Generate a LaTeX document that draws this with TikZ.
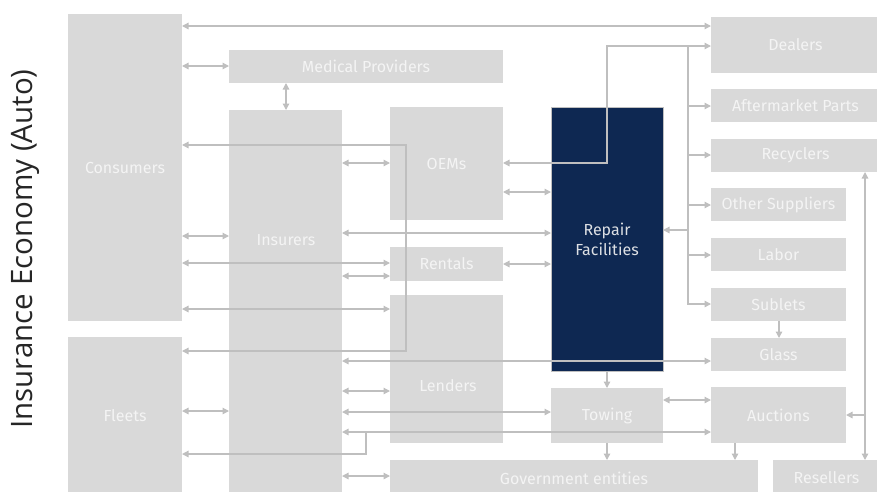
\documentclass[tikz,border=0pt]{standalone}
\usepackage{fontspec}
\setmainfont{Fira Sans}
\newfontfamily\titlefont{Open Sans}
\usetikzlibrary{arrows.meta}
\definecolor{boxgray}{HTML}{D9D9D9}
\definecolor{linegray}{HTML}{BFBFBF}
\definecolor{navy}{HTML}{0E2852}
\definecolor{labwhite}{HTML}{F4F4F4}
\definecolor{titlecol}{HTML}{262626}
\tikzset{
  box/.style={fill=boxgray, draw=none, inner sep=0pt, outer sep=0pt, text=labwhite,
    font=\fontsize{16}{20}\selectfont, align=center},
  navybox/.style={box, fill=navy, draw=linegray, line width=0.6pt, text=labwhite!90!navy},
  lab/.style={text=labwhite, font=\fontsize{16}{20}\selectfont, inner sep=0pt},
  conn/.style={draw=linegray, line width=1.3pt, >={Triangle[length=6.5pt,width=6.5pt]}},
}
\newcommand{\bx}[7][box]{\node[#1, minimum width=#5pt, minimum height=#6pt] (#2) at (#3,#4) {#7};}
\begin{document}
\begin{tikzpicture}[x=1pt,y=-1pt]
\useasboundingbox (0,0) rectangle (877,491);
\clip (0,0) rectangle (877,491);
% title
\node[rotate=90, text=titlecol, font=\titlefont\fontsize{29.5}{32}\selectfont, inner sep=0pt] (title) at (25,249) {Insurance Economy (Auto)};
% boxes
\bx{cons}{125}{167.5}{114}{307}{Consumers}
\bx{fleets}{125}{416}{114}{158}{Fleets}
\bx{med}{366}{66.5}{274}{33}{Medical Providers}
\bx{ins}{285.5}{302.5}{113}{385}{}
\node[lab] (inslab) at (286,240) {Insurers};
\bx{oem}{446.5}{163.5}{113}{113}{OEMs}
\bx{rent}{446.5}{264}{113}{34}{Rentals}
\bx{lend}{446.5}{369}{113}{148}{}
\node[lab] (lendlab) at (448,386) {Lenders};
\bx[navybox]{rf}{607}{239}{112}{264}{Repair\\Facilities}
\bx{tow}{607}{415.5}{112}{55}{Towing}
\bx{gov}{574}{478}{368}{36}{Government entities}
\bx{resell}{826.5}{478}{107}{36}{Resellers}
\bx{deal}{795.5}{45}{169}{56}{Dealers}
\bx{after}{795.5}{105.5}{169}{33}{Aftermarket Parts}
\bx{recyc}{795.5}{155.5}{169}{33}{Recyclers}
\bx{other}{778.5}{204.5}{135}{33}{Other Suppliers}
\bx{labor}{778.5}{254.5}{135}{33}{Labor}
\bx{sublet}{778.5}{304.5}{135}{33}{Sublets}
\bx{glass}{778.5}{354.5}{135}{33}{Glass}
\bx{auct}{778.5}{415}{135}{56}{Auctions}
% connector coordinates
\coordinate (brtop) at (406,145);
\coordinate (brbot) at (406,351);
\coordinate (oemc) at (607,163);
\coordinate (dealc) at (607,46);
\coordinate (bustop) at (688,46);
\coordinate (busbot) at (688,304);
\coordinate (fleetbr) at (366,432);
\coordinate (resbr) at (865,415);
% connectors
\draw[conn,<->] (cons.east |- 0,26) -- (deal.west |- 0,26);
\draw[conn,<->] (cons.east |- 0,66) -- (med.west |- 0,66);
\draw[conn,<->] (med.south -| 286,0) -- (ins.north -| 286,0);
\draw[conn,<->] (cons.east |- brtop) -- (brtop) -- (brbot) -- (fleets.east |- brbot);
\draw[conn,<->] (ins.east |- 0,163) -- (oem.west |- 0,163);
\draw[conn,<->] (oem.east |- oemc) -- (oemc) -- (dealc) -- (deal.west |- dealc);
\draw[conn,->] (bustop) -- (busbot) -- (sublet.west |- busbot);
\draw[conn,->] (688,106) -- (after.west |- 0,106);
\draw[conn,->] (688,155) -- (recyc.west |- 0,155);
\draw[conn,->] (688,205) -- (other.west |- 0,205);
\draw[conn,->] (688,255) -- (labor.west |- 0,255);
\draw[conn,->] (688,230) -- (rf.east |- 0,230);
\draw[conn,<->] (oem.east |- 0,192) -- (rf.west |- 0,192);
\draw[conn,<->] (cons.east |- 0,236) -- (ins.west |- 0,236);
\draw[conn,<->] (ins.east |- 0,233) -- (rf.west |- 0,233);
\draw[conn,<->] (cons.east |- 0,263) -- (rent.west |- 0,263);
\draw[conn,<->] (ins.east |- 0,276) -- (rent.west |- 0,276);
\draw[conn,<->] (rent.east |- 0,264) -- (rf.west |- 0,264);
\draw[conn,<->] (cons.east |- 0,309) -- (lend.west |- 0,309);
\draw[conn,<->] (ins.east |- 0,361) -- (glass.west |- 0,361);
\draw[conn,<->] (ins.east |- 0,391) -- (lend.west |- 0,391);
\draw[conn,<->] (fleets.east |- 0,411) -- (ins.west |- 0,411);
\draw[conn,<->] (ins.east |- 0,412) -- (tow.west |- 0,412);
\draw[conn,<->] (ins.east |- fleetbr) -- (auct.west |- fleetbr);
\draw[conn,->] (fleetbr) -- (366,454) -- (fleets.east |- 0,454);
\draw[conn,<->] (ins.east |- 0,476) -- (gov.west |- 0,476);
\draw[conn,->] (rf.south) -- (tow.north);
\draw[conn,<->] (tow.east |- 0,400) -- (auct.west |- 0,400);
\draw[conn,->] (tow.south) -- (tow.south |- gov.north);
\draw[conn,->] (auct.south -| 735,0) -- (gov.north -| 735,0);
\draw[conn,->] (sublet.south -| 779,0) -- (glass.north -| 779,0);
\draw[conn,<->] (recyc.south -| resbr) -- (resell.north -| resbr);
\draw[conn,->] (resbr) -- (auct.east |- resbr);
\end{tikzpicture}
\end{document}
